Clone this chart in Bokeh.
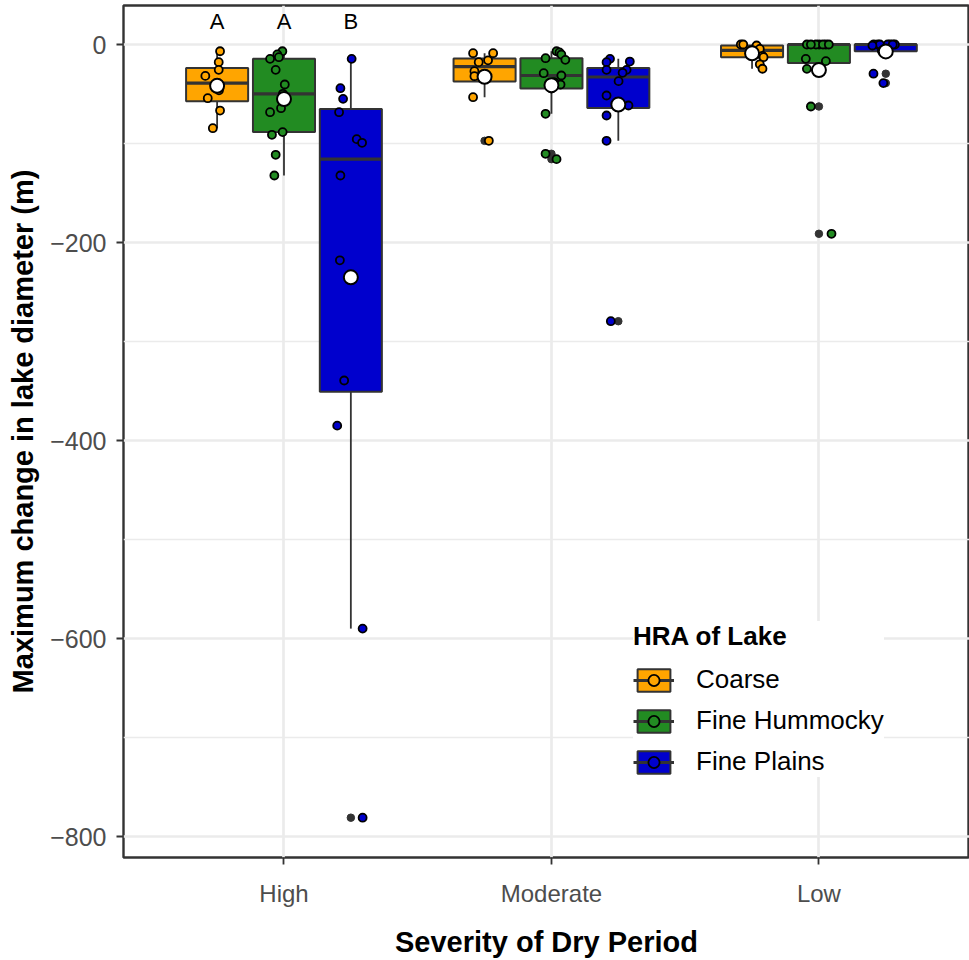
import numpy as np
from bokeh.plotting import figure
from bokeh.models import ColumnDataSource, Range1d, FixedTicker, Legend, LegendItem
from bokeh.core.properties import value
from bokeh.embed import file_html
from bokeh.resources import INLINE

# ---- data -------------------------------------------------------------
severity = ["High", "Moderate", "Low"]
hra_types = ["Coarse", "Fine Hummocky", "Fine Plains"]
hra_colors = ["#FFA500", "#228B22", "#0000CD"]

# Maximum change in lake diameter (m) for each lake
coarse_high = [-6.8, -17.8, -25.6, -31.7, -46.3, -54.2, -66.7, -84.5]
hummocky_high = [-6.8, -10.0, -12.8, -14.5, -25.6, -40.4, -49.8, -64.3,
                 -68.4, -88.5, -91.2, -111.4, -132.3]
plains_high = [-14.5, -44.1, -54.9, -68.4, -95.6, -99.3, -132.3, -218.0,
               -339.4, -385.0, -590.0, -781.0]

coarse_moderate = [-8.8, -8.8, -17.8, -16.0, -26.9, -32.0, -53.2, -97.3]
hummocky_moderate = [-6.8, -8.0, -10.1, -13.8, -15.5, -29.0, -31.3, -38.0,
                     -40.4, -44.5, -70.0, -110.4, -115.8]
plains_moderate = [-14.5, -17.8, -17.2, -25.6, -25.6, -28.6, -37.0, -51.5,
                   -61.6, -71.7, -97.3, -279.5]

coarse_low = [0.0, 0.0, -1.0, -4.5, -6.0, -11.5, -12.8, -20.0, -24.5]
hummocky_low = [0.0, 0.0, 0.0, 0.0, 0.0, 0.0, 0.0, -14.5, -16.8, -24.6,
                -62.6, -191.2]
plains_low = [0.0, 0.0, 0.0, 0.0, 0.0, 0.0, 0.0, -1.0, -6.4, -8.0,
              -29.5, -39.0]

# horizontal jitter of each lake's point (category units)
coarse_high_jit = [0.011, 0.006, 0.006, -0.044, 0.007, -0.035, 0.011, -0.016]
hummocky_high_jit = [-0.006, -0.025, -0.019, -0.052, -0.031, 0.003, -0.004,
                     -0.011, -0.052, -0.005, -0.045, -0.031, -0.036]
plains_high_jit = [0.003, -0.039, -0.029, -0.044, 0.022, 0.042, -0.039,
                   -0.041, -0.025, -0.051, 0.044, 0.044]

coarse_moderate_jit = [-0.043, 0.032, -0.022, 0.013, -0.038, -0.038, -0.043, 0.016]
hummocky_moderate_jit = [0.019, 0.030, 0.037, -0.022, 0.052, -0.029, 0.037,
                         0.011, 0.034, 0.0, -0.022, -0.022, 0.019]
plains_moderate_jit = [-0.031, -0.044, 0.043, -0.044, 0.031, 0.016, 0.001,
                       -0.044, 0.038, -0.044, -0.044, -0.028]

coarse_low_jit = [-0.042, -0.033, 0.017, 0.029, -0.002, 0.039, 0.043, 0.029, 0.039]
hummocky_low_jit = [-0.045, 0.001, 0.026, -0.011, 0.015, -0.030, 0.037,
                    -0.049, 0.026, -0.045, -0.030, 0.047]
plains_low_jit = [0.016, 0.034, -0.030, -0.045, 0.007, 0.026, -0.022,
                  -0.050, -0.015, 0.0, -0.046, -0.009]

# significance letters for the High group (one per HRA type)
sig_letters = ["A", "A", "B"]
letter_y = 23.5

y_major = [-800, -600, -400, -200, 0]
y_minor = [-700, -500, -300, -100]

groups = {
    ("Coarse", "High"): (coarse_high, coarse_high_jit),
    ("Fine Hummocky", "High"): (hummocky_high, hummocky_high_jit),
    ("Fine Plains", "High"): (plains_high, plains_high_jit),
    ("Coarse", "Moderate"): (coarse_moderate, coarse_moderate_jit),
    ("Fine Hummocky", "Moderate"): (hummocky_moderate, hummocky_moderate_jit),
    ("Fine Plains", "Moderate"): (plains_moderate, plains_moderate_jit),
    ("Coarse", "Low"): (coarse_low, coarse_low_jit),
    ("Fine Hummocky", "Low"): (hummocky_low, hummocky_low_jit),
    ("Fine Plains", "Low"): (plains_low, plains_low_jit),
}

# ---- layout constants ---------------------------------------------------
BOX_W = 0.232
DODGE = [-0.25, 0.0, 0.25]
FONT = "Liberation Sans"
DARK = "#333333"


def box_stats(vals):
    v = np.asarray(vals, dtype=float)
    q1, med, q3 = np.percentile(v, [25, 50, 75])
    iqr = q3 - q1
    lo_f, hi_f = q1 - 1.5 * iqr, q3 + 1.5 * iqr
    inside = v[(v >= lo_f) & (v <= hi_f)]
    outl = v[(v < lo_f) | (v > hi_f)]
    return q1, med, q3, inside.min(), inside.max(), outl, v.mean()


p = figure(width=969, height=960,
           x_range=Range1d(0.4, 3.563), y_range=Range1d(-821.2, 39.4),
           output_backend="svg", toolbar_location=None,
           min_border_left=123, min_border_right=0,
           min_border_top=5, min_border_bottom=103)
p.background_fill_color = "white"
p.border_fill_color = "white"
p.outline_line_color = DARK
p.outline_line_width = 2.4

# grid
p.xgrid.ticker = FixedTicker(ticks=[1, 2, 3])
p.xgrid.grid_line_color = "#EBEBEB"
p.xgrid.grid_line_width = 2.7
p.ygrid.ticker = FixedTicker(ticks=y_major, minor_ticks=y_minor)
p.ygrid.grid_line_color = "#EBEBEB"
p.ygrid.grid_line_width = 2.7
p.ygrid.minor_grid_line_color = "#EBEBEB"
p.ygrid.minor_grid_line_width = 1.6

# axes
p.xaxis.ticker = FixedTicker(ticks=[1, 2, 3])
p.xaxis.major_label_overrides = {i + 1: s for i, s in enumerate(severity)}
p.yaxis.ticker = FixedTicker(ticks=y_major)
p.yaxis.major_label_overrides = {v: str(v).replace("-", "\u2212") for v in y_major}
p.xaxis.axis_label = "Severity of Dry Period"
p.yaxis.axis_label = "Maximum change in lake diameter (m)"
for ax in (p.xaxis[0], p.yaxis[0]):
    ax.axis_line_color = None
    ax.major_tick_line_color = DARK
    ax.major_tick_line_width = 1.8
    ax.major_tick_in = 0
    ax.major_tick_out = 7
    ax.minor_tick_line_color = None
    ax.major_label_text_font = FONT
    ax.major_label_text_font_size = "24px"
    ax.major_label_text_color = "#4D4D4D"
    ax.axis_label_text_font = FONT
    ax.axis_label_text_font_size = "29px"
    ax.axis_label_text_font_style = "bold"
    ax.axis_label_text_color = "black"
p.xaxis.major_label_standoff = 15
p.yaxis.major_label_standoff = 10
p.yaxis.major_label_text_font_size = "25px"
p.xaxis.axis_label_standoff = 16
p.yaxis.axis_label_standoff = 8

# ---- compute per-type sources -------------------------------------------
box_sources, pt_sources, mean_sources = [], [], []
out_x, out_y = [], []
for j, name in enumerate(hra_types):
    b = dict(x=[], xl=[], xr=[], q1=[], med=[], q3=[], lo=[], hi=[])
    pts = dict(x=[], y=[])
    mn = dict(x=[], y=[])
    for i, sev in enumerate(severity):
        vals, jit = groups[(name, sev)]
        xc = i + 1 + DODGE[j]
        q1, med, q3, lo, hi, outl, mean = box_stats(vals)
        b["x"].append(xc)
        b["xl"].append(xc - BOX_W / 2)
        b["xr"].append(xc + BOX_W / 2)
        b["q1"].append(q1)
        b["med"].append(med)
        b["q3"].append(q3)
        b["lo"].append(lo)
        b["hi"].append(hi)
        out_x.extend([xc] * len(outl))
        out_y.extend(list(outl))
        pts["x"].extend([xc + d for d in jit])
        pts["y"].extend(vals)
        mn["x"].append(xc)
        mn["y"].append(mean)
    box_sources.append(ColumnDataSource(b))
    pt_sources.append(ColumnDataSource(pts))
    mean_sources.append(ColumnDataSource(mn))

# ---- boxplot layer --------------------------------------------------------
box_rs, med_rs = [], []
for j, color in enumerate(hra_colors):
    src = box_sources[j]
    p.segment(x0="x", y0="lo", x1="x", y1="q1", source=src,
              line_color=DARK, line_width=1.8)
    p.segment(x0="x", y0="q3", x1="x", y1="hi", source=src,
              line_color=DARK, line_width=1.8)
    box_rs.append(p.vbar(x="x", width=BOX_W, bottom="q1", top="q3", source=src,
                         fill_color=color, line_color=DARK, line_width=2))
    med_rs.append(p.segment(x0="xl", y0="med", x1="xr", y1="med", source=src,
                            line_color=DARK, line_width=3.2))
p.scatter(out_x, out_y, size=7.5, fill_color=DARK, line_color=DARK)

# ---- jittered lakes ------------------------------------------------------
pt_rs = []
for j, color in enumerate(hra_colors):
    pt_rs.append(p.scatter(x="x", y="y", source=pt_sources[j], size=8,
                           fill_color=color, line_color="black", line_width=1.8))

# ---- means -----------------------------------------------------------------
for j in range(3):
    p.scatter(x="x", y="y", source=mean_sources[j], size=14,
              fill_color="white", line_color="black", line_width=2)

# ---- significance letters -------------------------------------------------
p.text(x=[1 + d for d in DODGE], y=[letter_y] * 3, text=sig_letters,
       text_font=value(FONT), text_font_size=value("22px"),
       text_align="center", text_baseline="middle", text_color="black")

# ---- legend ----------------------------------------------------------------
items = [LegendItem(label=name, renderers=[box_rs[j], med_rs[j], pt_rs[j]])
         for j, name in enumerate(hra_types)]
legend = Legend(items=items, location=(510, 80), title="HRA of Lake",
                title_text_font=FONT, title_text_font_size="26px",
                title_text_font_style="bold", title_text_color="black",
                title_standoff=12,
                label_text_font=FONT, label_text_font_size="26px",
                label_text_color="black",
                glyph_width=41, glyph_height=28, label_height=28,
                label_standoff=22, spacing=10, padding=32, margin=0,
                border_line_color=None, background_fill_color="white",
                background_fill_alpha=1.0)
p.add_layout(legend)

open("out.html", "w").write(file_html(p, INLINE))
